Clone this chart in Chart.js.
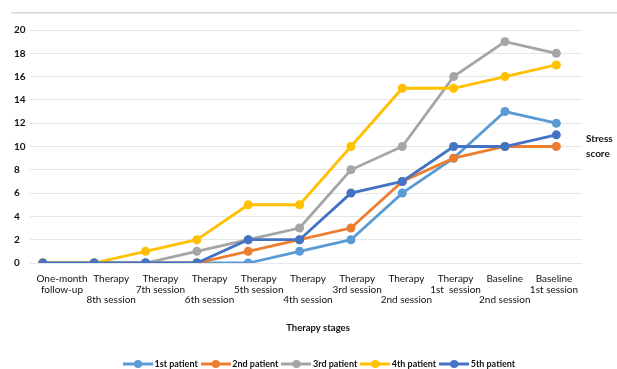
<!DOCTYPE html>
<html>
<head>
<meta charset="utf-8">
<script src="https://cdn.jsdelivr.net/npm/chart.js@4.4.1/dist/chart.umd.min.js"></script>
<style>
  html, body { margin: 0; padding: 0; background: #ffffff; }
  #wrap { width: 617px; height: 369px; position: relative; }
</style>
</head>
<body>
<div id="wrap"><canvas id="chart" width="617" height="369"></canvas></div>
<script>
// Therapy stages, in the order they are plotted (left to right)
const stageLabels = [
  ["One-month", "follow-up"],
  ["Therapy", "", "8th session"],
  ["Therapy", "7th session"],
  ["Therapy", "", "6th session"],
  ["Therapy", "5th session"],
  ["Therapy", "", "4th session"],
  ["Therapy", "3rd session"],
  ["Therapy", "", "2nd session"],
  ["Therapy", "1st  session"],
  ["Baseline", "", "2nd session"],
  ["Baseline", "1st session"]
];

// Stress score per patient at each stage
const patient1 = [0, 0, 0, 0, 0, 1, 2, 6, 9, 13, 12];
const patient2 = [0, 0, 0, 0, 1, 2, 3, 7, 9, 10, 10];
const patient3 = [0, 0, 0, 1, 2, 3, 8, 10, 16, 19, 18];
const patient4 = [0, 0, 1, 2, 5, 5, 10, 15, 15, 16, 17];
const patient5 = [0, 0, 0, 0, 2, 2, 6, 7, 10, 10, 11];

const seriesNames = ["1st patient", "2nd patient", "3rd patient", "4th patient", "5th patient"];
const seriesValues = [patient1, patient2, patient3, patient4, patient5];
const seriesColors = ["#5B9BD5", "#ED7D31", "#A5A5A5", "#FFC000", "#4472C4"];

const yMin = 0, yMax = 20, yStep = 2;
const xTitle = "Therapy stages";
const yTitleLines = ["Stress", "score"];

const FONT = "Lato, 'Open Sans', 'Liberation Sans', sans-serif";

// Line-with-marker swatch for the legend
function legendIcon(color) {
  const c = document.createElement("canvas");
  c.width = 30; c.height = 10;
  const g = c.getContext("2d");
  g.strokeStyle = color; g.lineWidth = 3;
  g.beginPath(); g.moveTo(0, 5); g.lineTo(30, 5); g.stroke();
  g.fillStyle = color;
  g.beginPath(); g.arc(15, 5, 4, 0, Math.PI * 2); g.fill();
  return c;
}

const datasets = seriesNames.map((name, i) => ({
  label: name,
  data: seriesValues[i].map((v, k) => ({ x: k, y: v })),
  borderColor: seriesColors[i],
  backgroundColor: seriesColors[i],
  borderWidth: 2.8,
  pointRadius: 4.5,
  pointHoverRadius: 4.5,
  pointBorderWidth: 0,
  tension: 0,
  order: seriesNames.length - 1 - i,
  xAxisID: "x",
  yAxisID: "y"
}));

// Frame line, axis titles, legend placement
const decorations = {
  id: "decorations",
  beforeDraw(chart) {
    const ctx = chart.ctx;
    ctx.save();
    ctx.fillStyle = "#d9d9d9";
    ctx.fillRect(11, 12, 606, 1.6);
    ctx.restore();
  },
  afterLayout(chart) {
    const lg = chart.legend;
    if (!lg) return;
    const pad = lg.options.labels.padding;
    const dx = 126 - pad - lg.left;
    lg.left += dx; lg.right += dx;
    const dy = 364 - pad - 4.5 - lg.top;
    lg.top += dy; lg.bottom += dy;
  },
  afterDraw(chart) {
    const ctx = chart.ctx;
    ctx.save();
    ctx.fillStyle = "#111";
    ctx.textBaseline = "middle";
    ctx.font = "bold 9.5px " + FONT;
    ctx.textAlign = "center";
    ctx.fillText(xTitle, 318, 328);
    ctx.font = "bold 10px " + FONT;
    ctx.textAlign = "left";
    ctx.fillText(yTitleLines[0], 586, 139);
    ctx.fillText(yTitleLines[1], 586, 154);
    ctx.restore();
  }
};

new Chart(document.getElementById("chart"), {
  type: "line",
  data: { datasets },
  plugins: [decorations],
  options: {
    responsive: false,
    animation: false,
    devicePixelRatio: 1,
    layout: { padding: { left: 14, right: 35, top: 30, bottom: 0 } },
    plugins: {
      tooltip: { enabled: false },
      legend: {
        position: "bottom",
        align: "start",
        labels: {
          usePointStyle: true,
          pointStyleWidth: 24,
          padding: 6,
          color: "#111",
          font: { family: FONT, size: 9, weight: "bold" },
          generateLabels(chart) {
            return chart.data.datasets.map((ds, i) => ({
              text: ds.label,
              fillStyle: ds.borderColor,
              strokeStyle: ds.borderColor,
              lineWidth: 0,
              pointStyle: legendIcon(ds.borderColor),
              hidden: false,
              datasetIndex: i,
              fontColor: "#111"
            }));
          }
        }
      }
    },
    scales: {
      x: {
        type: "linear",
        display: false,
        min: -0.25,
        max: 10.5
      },
      stage: {
        type: "linear",
        position: "bottom",
        min: -0.65,
        max: 10.57,
        grid: { display: false, drawTicks: false },
        border: { display: false },
        afterBuildTicks(scale) {
          scale.ticks = stageLabels.map((_, i) => ({ value: i }));
        },
        afterFit(scale) {
          const lgH = scale.chart.legend ? scale.chart.legend.height : 0;
          scale.height = scale.chart.height - 263 - lgH;
        },
        ticks: {
          autoSkip: false,
          maxRotation: 0,
          minRotation: 0,
          padding: 11,
          color: "#111",
          font: { family: FONT, size: 10, lineHeight: 1.05 },
          callback: (v) => stageLabels[v]
        }
      },
      y: {
        type: "linear",
        min: yMin,
        max: yMax,
        afterFit(scale) { scale.width = 16; },
        grid: { color: "#e6e6e6", lineWidth: 1, drawTicks: false },
        border: { display: false },
        ticks: {
          stepSize: yStep,
          crossAlign: "far",
          color: "#111",
          font: { family: FONT, size: 10, weight: "bold" }
        }
      }
    }
  }
});
</script>
</body>
</html>
